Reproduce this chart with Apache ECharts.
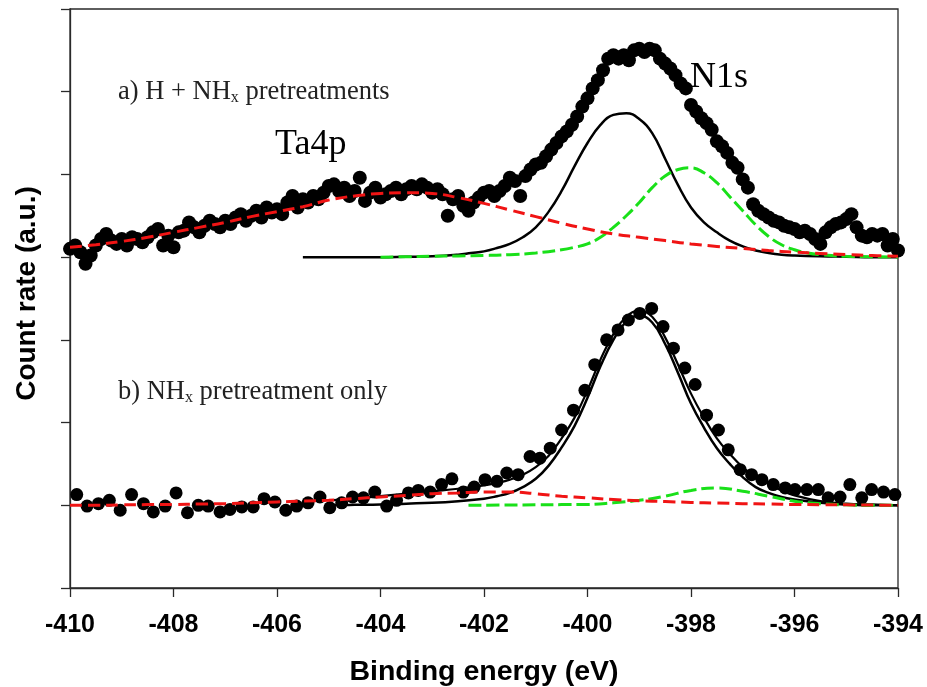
<!DOCTYPE html>
<html>
<head>
<meta charset="utf-8">
<script src="https://cdn.jsdelivr.net/npm/echarts@6/dist/echarts.min.js"></script>
<style>
  html, body { margin: 0; padding: 0; background: #fff; }
  #chart { width: 927px; height: 687px; }
</style>
</head>
<body>
<div id="chart"></div>
<script>
// Axis setup (binding energy in eV, count rate in arbitrary units)
const X_MIN = -410, X_MAX = -394, X_STEP = 2;
const Y_MIN = 0, Y_MAX = 7, Y_STEP = 1;

// Vertical offsets used to stack the two spectra
const OFFSET_A = 4;   // a) H + NHx pretreatments
const OFFSET_B = 1;   // b) NHx pretreatment only

// ---- Spectrum a): measured points (relative to its baseline) ----
const aEnergy = [
  -410.0,-409.9,-409.8,-409.7,-409.6,-409.5,-409.4,-409.3,-409.2,-409.1,
  -409.0,-408.9,-408.8,-408.7,-408.6,-408.5,-408.4,-408.3,-408.2,-408.1,
  -408.0,-407.9,-407.8,-407.7,-407.6,-407.5,-407.4,-407.3,-407.2,-407.1,
  -407.0,-406.9,-406.8,-406.7,-406.6,-406.5,-406.4,-406.3,-406.2,-406.1,
  -406.0,-405.9,-405.8,-405.7,-405.6,-405.5,-405.4,-405.3,-405.2,-405.1,
  -405.0,-404.9,-404.8,-404.7,-404.6,-404.5,-404.4,-404.3,-404.2,-404.1,
  -404.0,-403.9,-403.8,-403.7,-403.6,-403.5,-403.4,-403.3,-403.2,-403.1,
  -403.0,-402.9,-402.8,-402.7,-402.6,-402.5,-402.4,-402.3,-402.2,-402.1,
  -402.0,-401.9,-401.8,-401.7,-401.6,-401.5,-401.4,-401.3,-401.2,-401.1,
  -401.0,-400.9,-400.8,-400.7,-400.6,-400.5,-400.4,-400.3,-400.2,-400.1,
  -400.0,-399.9,-399.8,-399.7,-399.6,-399.5,-399.4,-399.3,-399.2,-399.1,
  -399.0,-398.9,-398.8,-398.7,-398.6,-398.5,-398.4,-398.3,-398.2,-398.1,
  -398.0,-397.9,-397.8,-397.7,-397.6,-397.5,-397.4,-397.3,-397.2,-397.1,
  -397.0,-396.9,-396.8,-396.7,-396.6,-396.5,-396.4,-396.3,-396.2,-396.1,
  -396.0,-395.9,-395.8,-395.7,-395.6,-395.5,-395.4,-395.3,-395.2,-395.1,
  -395.0,-394.9,-394.8,-394.7,-394.6,-394.5,-394.4,-394.3,-394.2,-394.1,
  -394.0
];
const aCounts = [
  0.10,0.14,0.06,-0.08,0.02,0.14,0.22,0.28,0.20,0.16,
  0.22,0.14,0.24,0.22,0.18,0.24,0.30,0.34,0.14,0.26,
  0.12,0.30,0.32,0.42,0.36,0.30,0.38,0.44,0.40,0.36,
  0.44,0.40,0.48,0.52,0.44,0.50,0.56,0.48,0.60,0.54,
  0.58,0.52,0.66,0.74,0.60,0.70,0.66,0.74,0.70,0.78,
  0.86,0.88,0.80,0.84,0.74,0.80,0.96,0.68,0.78,0.84,
  0.72,0.76,0.80,0.84,0.76,0.82,0.86,0.82,0.88,0.84,
  0.78,0.82,0.76,0.50,0.70,0.74,0.62,0.56,0.66,0.72,
  0.78,0.80,0.74,0.80,0.86,0.96,0.92,0.74,0.98,1.06,
  1.12,1.14,1.22,1.30,1.38,1.46,1.52,1.60,1.70,1.82,
  1.92,2.04,2.14,2.26,2.40,2.44,2.40,2.44,2.38,2.50,
  2.52,2.48,2.52,2.50,2.40,2.34,2.28,2.20,2.10,2.04,
  1.84,1.76,1.68,1.62,1.54,1.40,1.34,1.26,1.14,1.08,
  0.94,0.84,0.64,0.56,0.52,0.48,0.44,0.42,0.38,0.36,
  0.34,0.30,0.32,0.28,0.22,0.16,0.30,0.36,0.40,0.42,
  0.46,0.52,0.36,0.26,0.24,0.28,0.26,0.28,0.14,0.22,
  0.08
];

// ---- Spectrum a): fitted components ----
const aN1Energy = [-405.5,-405,-404.5,-404,-403.5,-403,
  -402.5,-402.25,-402,-401.75,-401.5,-401.25,-401,-400.75,-400.5,-400.25,-400,-399.75,-399.5,-399.25,
  -399,-398.75,-398.5,-398.25,-398,-397.75,-397.5,-397.25,-397,-396.75,-396.5,-396.25,-396,
  -395.5,-395,-394.5,-394];
const aN1Value = [0,0,0,0,0.005,0.01,
  0.03,0.05,0.07,0.11,0.16,0.24,0.36,0.55,0.80,1.10,1.38,1.60,1.72,1.74,
  1.67,1.50,1.19,0.87,0.60,0.42,0.30,0.20,0.13,0.08,0.05,0.03,0.02,
  0.01,0.005,0,0];

const aN2Energy = [-404,-403.5,-403,-402.5,-402,-401.5,-401,-400.5,
  -400.25,-400,-399.75,-399.5,-399.25,-399,-398.75,-398.5,-398.25,-398,-397.75,-397.5,-397.25,-397,
  -396.75,-396.5,-396.25,-396,-395.75,-395.5,-395,-394.5,-394];
const aN2Value = [0,0.005,0.01,0.015,0.02,0.03,0.05,0.09,
  0.12,0.16,0.24,0.36,0.50,0.66,0.84,0.98,1.06,1.08,1.02,0.90,0.73,0.56,
  0.39,0.25,0.15,0.09,0.05,0.03,0.01,0.005,0];

const aTaEnergy = [-410,-409.5,-409,-408.5,-408,-407.5,-407,-406.5,-406,-405.5,-405,-404.5,-404,-403.5,-403,-402.5,-402,-401.5,-401,-400.5,-400,-399.5,-399,-398.5,-398,-397.5,-397,-396.5,-396,-395.5,-395,-394.5,-394];
const aTaValue  = [0.12,0.15,0.19,0.24,0.30,0.36,0.42,0.49,0.55,0.61,0.69,0.74,0.77,0.78,0.77,0.72,0.65,0.57,0.49,0.41,0.34,0.28,0.24,0.20,0.16,0.13,0.105,0.08,0.06,0.045,0.03,0.02,0.01];

// ---- Spectrum b): measured points (relative to its baseline) ----
const bEnergy = [
  -409.87,-409.67,-409.45,-409.24,-409.03,-408.81,-408.58,-408.39,-408.16,-407.95,
  -407.73,-407.52,-407.33,-407.10,-406.91,-406.68,-406.46,-406.25,-406.04,-405.83,
  -405.62,-405.40,-405.17,-404.98,-404.75,-404.54,-404.33,-404.11,-403.88,-403.69,
  -403.46,-403.27,-403.04,-402.82,-402.62,-402.40,-402.19,-401.98,-401.75,-401.56,
  -401.34,-401.11,-400.92,-400.72,-400.50,-400.27,-400.05,-399.86,-399.63,-399.41,
  -399.21,-398.99,-398.76,-398.54,-398.34,-398.12,-397.92,-397.70,-397.47,-397.28,
  -397.05,-396.83,-396.63,-396.41,-396.18,-395.99,-395.76,-395.54,-395.35,-395.12,
  -394.93,-394.70,-394.51,-394.28,-394.06
];
const bCounts = [
  0.13,-0.01,0.02,0.06,-0.06,0.13,0.02,-0.08,-0.01,0.15,
  -0.09,0.00,-0.01,-0.08,-0.05,-0.02,-0.02,0.08,0.04,-0.06,
  -0.01,0.03,0.10,-0.03,0.03,0.10,0.09,0.16,-0.01,0.06,
  0.15,0.18,0.16,0.25,0.32,0.16,0.22,0.31,0.29,0.39,
  0.37,0.59,0.57,0.69,0.91,1.15,1.39,1.70,2.00,2.12,
  2.24,2.32,2.38,2.16,1.90,1.66,1.46,1.09,0.91,0.67,
  0.43,0.37,0.31,0.25,0.21,0.19,0.19,0.19,0.09,0.10,
  0.25,0.09,0.19,0.16,0.13
];

// ---- Spectrum b): fitted components and envelope ----
const bN1Energy = [-405,-404.5,-404,-403.5,-403,-402.5,
  -402,-401.75,-401.5,-401.25,-401,-400.75,-400.5,-400.25,-400,-399.75,-399.5,-399.25,-399,-398.75,
  -398.5,-398.25,-398,-397.75,-397.5,-397.25,-397,-396.75,-396.5,-396.25,-396,
  -395.5,-395,-394.5,-394];
const bN1Value = [0,0.005,0.01,0.02,0.03,0.05,
  0.08,0.11,0.15,0.22,0.32,0.48,0.70,0.96,1.30,1.68,2.00,2.22,2.29,2.21,
  1.95,1.60,1.23,0.94,0.69,0.50,0.34,0.22,0.15,0.10,0.07,
  0.03,0.01,0,0];

const bFitEnergy = [-405,-404.5,-404,-403.5,-403,-402.5,
  -402,-401.75,-401.5,-401.25,-401,-400.75,-400.5,-400.25,-400,-399.75,-399.5,-399.25,-399,-398.75,
  -398.5,-398.25,-398,-397.75,-397.5,-397.25,-397,-396.75,-396.5,-396.25,-396,
  -395.5,-395,-394.5,-394];
const bFitValue = [0.06,0.08,0.11,0.14,0.17,0.20,
  0.24,0.27,0.31,0.37,0.46,0.60,0.81,1.06,1.39,1.76,2.07,2.28,2.35,2.28,
  2.03,1.70,1.35,1.06,0.81,0.62,0.46,0.34,0.26,0.18,0.12,
  0.05,0.02,0.01,0];

const bTaEnergy = [-410,-409.5,-409,-408.5,-408,-407.5,-407,-406.5,-406,-405.5,-405,-404.5,-404,-403.5,-403,-402.5,-402,-401.5,-401,-400.5,-400,-399.5,-399,-398.5,-398,-397.5,-397,-396.5,-396,-395.5,-395,-394.5,-394];
const bTaValue  = [0,0,0.005,0.008,0.01,0.015,0.02,0.03,0.04,0.05,0.06,0.08,0.10,0.12,0.14,0.15,0.16,0.16,0.14,0.11,0.09,0.07,0.055,0.045,0.035,0.027,0.02,0.015,0.01,0.007,0.005,0.002,0];

const bN2Energy = [-402.3,-401.5,-401,-400.5,-400,-399.5,-399,-398.5,-398,-397.5,-397,-396.5,-396,-395.5,-395,-394.5,-394];
const bN2Value  = [0,0.003,0.005,0.008,0.01,0.03,0.06,0.11,0.18,0.21,0.17,0.11,0.05,0.02,0.005,0,0];

// Text drawn on the chart
const X_TITLE = 'Binding energy (eV)';
const Y_TITLE = 'Count rate (a.u.)';
const PEAK_TA = 'Ta4p';
const PEAK_N = 'N1s';
const LABEL_A = '{m|a) H + NH}{s|x}{m| pretreatments}';
const LABEL_B = '{m|b) NH}{s|x}{m| pretreatment only}';

function toPairs(energy, values, offset) {
  return energy.map((e, i) => [e, values[i] + offset]);
}

const AXIS_COLOR = '#2a2a2a';
const SANS = '"Liberation Sans", Arial, sans-serif';
const SERIF = '"Liberation Serif", "Times New Roman", serif';

function fitLine(name, energy, values, offset, color, type, width, z) {
  return {
    name: name,
    type: 'line',
    data: toPairs(energy, values, offset),
    showSymbol: false,
    smooth: 0.45,
    lineStyle: { color: color, width: width, type: type },
    z: z,
    silent: true,
    animation: false
  };
}

function points(name, energy, counts, offset, size) {
  return {
    name: name, type: 'scatter',
    data: toPairs(energy, counts, offset),
    symbol: 'circle', symbolSize: size,
    itemStyle: { color: '#000', opacity: 1 },
    z: 2, silent: true
  };
}

const richLabel = {
  m: { fontSize: 26.5, fontFamily: SERIF, fill: '#222', lineHeight: 32, verticalAlign: 'bottom' },
  s: { fontSize: 16, fontFamily: SERIF, fill: '#222', lineHeight: 15, verticalAlign: 'bottom' }
};

const chart = echarts.init(document.getElementById('chart'), null, { renderer: 'canvas' });

chart.setOption({
  backgroundColor: '#ffffff',
  animation: false,
  grid: {
    left: 70, right: 29, top: 9, bottom: 99,
    containLabel: false,
    outerBoundsMode: 'none',
    show: true, borderColor: AXIS_COLOR, borderWidth: 1.3
  },
  xAxis: {
    type: 'value',
    min: X_MIN, max: X_MAX, interval: X_STEP,
    axisLine: { show: true, lineStyle: { color: AXIS_COLOR, width: 1.3 } },
    axisTick: { show: true, inside: false, length: 9, lineStyle: { color: AXIS_COLOR, width: 1.3 } },
    axisLabel: { fontSize: 25, fontWeight: 'bold', fontFamily: SANS, color: '#000', margin: 25 },
    splitLine: { show: false },
    name: X_TITLE,
    nameLocation: 'middle',
    nameGap: 70,
    nameTextStyle: { fontSize: 28.5, fontWeight: 'bold', fontFamily: SANS, color: '#000' }
  },
  yAxis: {
    type: 'value',
    min: Y_MIN, max: Y_MAX, interval: Y_STEP,
    axisLine: { show: true, lineStyle: { color: AXIS_COLOR, width: 1.3 } },
    axisTick: { show: true, inside: false, length: 9, lineStyle: { color: AXIS_COLOR, width: 1.3 } },
    axisLabel: { show: false },
    splitLine: { show: false },
    name: Y_TITLE,
    nameLocation: 'middle',
    nameGap: 29,
    nameTextStyle: { fontSize: 28, fontWeight: 'bold', fontFamily: SANS, color: '#000', padding: [0, 0, 0, 10] }
  },
  series: [
    points('a) data', aEnergy, aCounts, OFFSET_A, 14),
    points('b) data', bEnergy, bCounts, OFFSET_B, 13),
    fitLine('a) N1s component 1', aN1Energy, aN1Value, OFFSET_A, '#000', 'solid', 2.5, 3),
    fitLine('a) N1s component 2', aN2Energy, aN2Value, OFFSET_A, '#19e019', [13, 5], 3, 4),
    fitLine('a) Ta4p', aTaEnergy, aTaValue, OFFSET_A, '#f01414', [12, 6], 3, 5),
    fitLine('b) envelope', bFitEnergy, bFitValue, OFFSET_B, '#000', 'solid', 2.2, 3),
    fitLine('b) N1s component 1', bN1Energy, bN1Value, OFFSET_B, '#000', 'solid', 2.5, 3),
    fitLine('b) N1s component 2', bN2Energy, bN2Value, OFFSET_B, '#19e019', [13, 5], 3, 4),
    fitLine('b) Ta4p', bTaEnergy, bTaValue, OFFSET_B, '#f01414', [12, 6], 3, 5)
  ],
  graphic: [
    {
      type: 'text', x: 118, y: 90, silent: true,
      style: { text: LABEL_A, verticalAlign: 'middle', align: 'left', rich: richLabel }
    },
    {
      type: 'text', x: 118, y: 390, silent: true,
      style: { text: LABEL_B, verticalAlign: 'middle', align: 'left', rich: richLabel }
    },
    {
      type: 'text', x: 275, y: 145, silent: true,
      style: { text: PEAK_TA, font: '36px ' + SERIF, fill: '#000', verticalAlign: 'middle', align: 'left' }
    },
    {
      type: 'text', x: 690, y: 78, silent: true,
      style: { text: PEAK_N, font: '36px ' + SERIF, fill: '#000', verticalAlign: 'middle', align: 'left' }
    }
  ]
});
</script>
</body>
</html>
